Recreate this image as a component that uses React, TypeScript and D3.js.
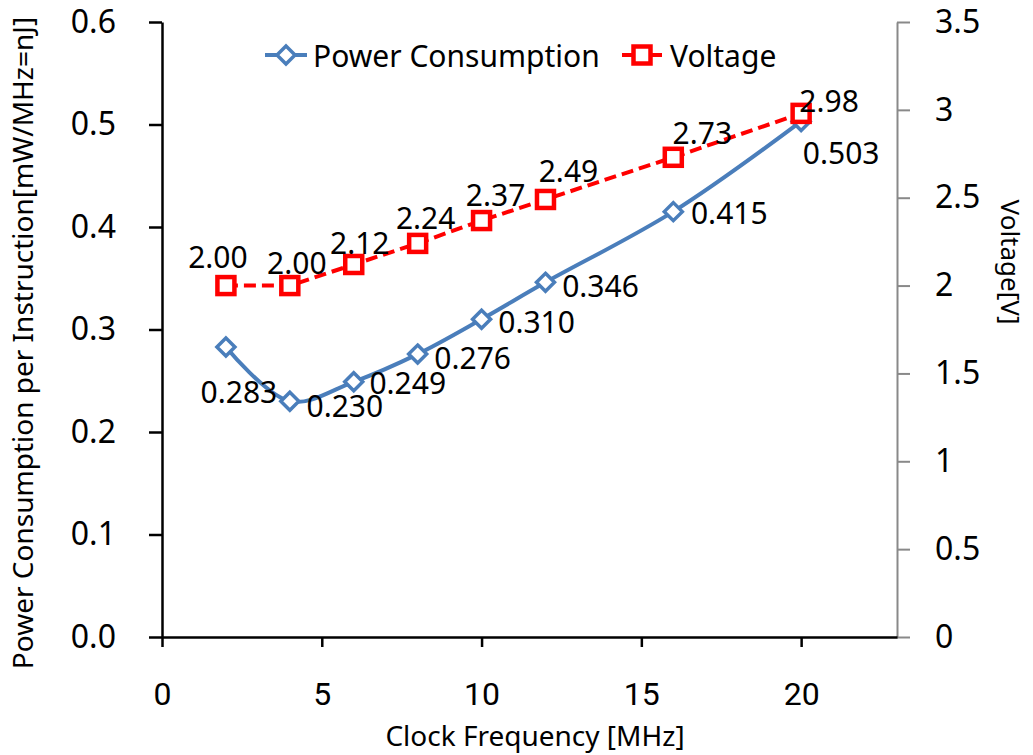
import React, { useEffect, useRef } from 'react';
import * as d3 from 'd3';

const freqMHz = [2, 4, 6, 8, 10, 12, 16, 20];
const powerPerInstr = [0.283, 0.23, 0.249, 0.276, 0.31, 0.346, 0.415, 0.503];
const voltage = [2.0, 2.0, 2.12, 2.24, 2.37, 2.49, 2.73, 2.98];

const xTicks = [0, 5, 10, 15, 20];
const leftTicks = [0, 0.1, 0.2, 0.3, 0.4, 0.5, 0.6];
const rightTicks = [0, 0.5, 1, 1.5, 2, 2.5, 3, 3.5];

const BLUE = '#4a7ebb';
const RED = '#ff0000';
const FONT = '"Noto Sans", sans-serif';
const NARROW = '"Liberation Sans Narrow", Roboto, sans-serif';

export default function App() {
  const ref = useRef<SVGSVGElement | null>(null);

  useEffect(() => {
    const svg = d3.select(ref.current);
    svg.selectAll('*').remove();

    const x = d3.scaleLinear().domain([0, 23]).range([162, 897]);
    const yL = d3.scaleLinear().domain([0, 0.6]).range([637, 22]);
    const yR = d3.scaleLinear().domain([0, 3.5]).range([637, 22]);

    // axes
    const left = svg.append('g').attr('transform', `translate(${x(0)},0)`)
      .call(d3.axisLeft(yL).tickValues(leftTicks).tickFormat(d3.format('.1f')).tickSize(13).tickSizeOuter(0).tickPadding(33));
    left.select('.domain').attr('stroke', '#000').attr('stroke-width', 2.5);
    left.selectAll('.tick line').attr('stroke', '#000').attr('stroke-width', 2.5);
    left.selectAll('.tick text').attr('font-family', FONT).attr('font-size', 32).attr('fill', '#000');

    const right = svg.append('g').attr('transform', `translate(${x(23)},0)`)
      .call(d3.axisRight(yR).tickValues(rightTicks).tickFormat((v) => String(v)).tickSize(13).tickSizeOuter(0).tickPadding(25));
    right.select('.domain').attr('stroke', '#898989').attr('stroke-width', 2);
    right.selectAll('.tick line').attr('stroke', '#898989').attr('stroke-width', 2);
    right.selectAll('.tick text').attr('font-family', FONT).attr('font-size', 32).attr('fill', '#000');

    const bottom = svg.append('g').attr('transform', `translate(0,${yL(0)})`)
      .call(d3.axisBottom(x).tickValues(xTicks).tickFormat(d3.format('d')).tickSize(10).tickSizeOuter(0));
    bottom.select('.domain').attr('stroke', '#000').attr('stroke-width', 2.5);
    bottom.selectAll('.tick line').attr('stroke', '#000').attr('stroke-width', 2.5);
    bottom.selectAll('.tick text')
      .attr('y', 57).attr('dy', null).attr('dominant-baseline', 'central')
      .attr('font-family', NARROW).attr('font-size', 32).attr('fill', '#000');

    // axis titles
    svg.append('text')
      .attr('transform', `translate(33,343) rotate(-90)`)
      .attr('text-anchor', 'middle')
      .attr('font-family', FONT).attr('font-size', 28)
      .text('Power Consumption per Instruction[mW/MHz=nJ]');
    svg.append('text')
      .attr('transform', `translate(1001,262) rotate(90)`)
      .attr('text-anchor', 'middle')
      .attr('font-family', FONT).attr('font-size', 26)
      .text('Voltage[V]');
    svg.append('text')
      .attr('x', 535).attr('y', 746)
      .attr('text-anchor', 'middle')
      .attr('font-family', FONT).attr('font-size', 28)
      .text('Clock Frequency [MHz]');

    const powerPts = freqMHz.map((f, i) => [x(f), yL(powerPerInstr[i])] as [number, number]);
    const voltPts = freqMHz.map((f, i) => [x(f), yR(voltage[i])] as [number, number]);

    svg.append('path')
      .attr('d', d3.line().curve(d3.curveCatmullRom.alpha(0.5))(powerPts))
      .attr('fill', 'none').attr('stroke', BLUE).attr('stroke-width', 4);

    svg.append('path')
      .attr('d', d3.line()(voltPts))
      .attr('fill', 'none').attr('stroke', RED).attr('stroke-width', 4)
      .attr('stroke-dasharray', '12,6');

    const diamond = (g: any, cx: number, cy: number) =>
      g.append('path')
        .attr('d', `M${cx},${cy - 9}L${cx + 9},${cy}L${cx},${cy + 9}L${cx - 9},${cy}Z`)
        .attr('fill', '#fff').attr('stroke', BLUE).attr('stroke-width', 3.5);
    const square = (g: any, cx: number, cy: number) =>
      g.append('rect')
        .attr('x', cx - 8.5).attr('y', cy - 8.5).attr('width', 17).attr('height', 17)
        .attr('fill', '#fff').attr('stroke', RED).attr('stroke-width', 4.5);

    powerPts.forEach(([cx, cy]) => diamond(svg, cx, cy));
    voltPts.forEach(([cx, cy]) => square(svg, cx, cy));

    // data labels (Excel placements, some dragged by hand)
    const powerNudge = [[13, 45], [55, 4], [54, 1], [55, 3], [55, 2], [55, 3], [56, 1], [40, 31]];
    const voltNudge = [[-8, -29], [7, -23], [6, -22], [8, -26], [14, -26], [23, -29], [29, -25], [28, -13]];

    powerPts.forEach(([cx, cy], i) => {
      svg.append('text')
        .attr('x', cx + powerNudge[i][0]).attr('y', cy + powerNudge[i][1])
        .attr('text-anchor', 'middle').attr('dominant-baseline', 'central')
        .attr('font-family', FONT).attr('font-size', 30)
        .text(d3.format('.3f')(powerPerInstr[i]));
    });
    voltPts.forEach(([cx, cy], i) => {
      svg.append('text')
        .attr('x', cx + voltNudge[i][0]).attr('y', cy + voltNudge[i][1])
        .attr('text-anchor', 'middle').attr('dominant-baseline', 'central')
        .attr('font-family', FONT).attr('font-size', 30)
        .text(d3.format('.2f')(voltage[i]));
    });

    // legend
    const lg = svg.append('g');
    lg.append('line').attr('x1', 265).attr('x2', 307).attr('y1', 55).attr('y2', 55)
      .attr('stroke', BLUE).attr('stroke-width', 4);
    diamond(lg, 286, 55);
    lg.append('text').attr('x', 313).attr('y', 55).attr('dominant-baseline', 'central')
      .attr('font-family', FONT).attr('font-size', 30).text('Power Consumption');
    lg.append('line').attr('x1', 622).attr('x2', 662).attr('y1', 55).attr('y2', 55)
      .attr('stroke', RED).attr('stroke-width', 4);
    square(lg, 642, 55);
    lg.append('text').attr('x', 670).attr('y', 55).attr('dominant-baseline', 'central')
      .attr('font-family', FONT).attr('font-size', 30).text('Voltage');
  }, []);

  return (
    <div style={{ position: 'fixed', left: 0, top: 0 }}>
      <svg ref={ref} width={1033} height={755} style={{ display: 'block', background: '#fff' }} />
    </div>
  );
}
